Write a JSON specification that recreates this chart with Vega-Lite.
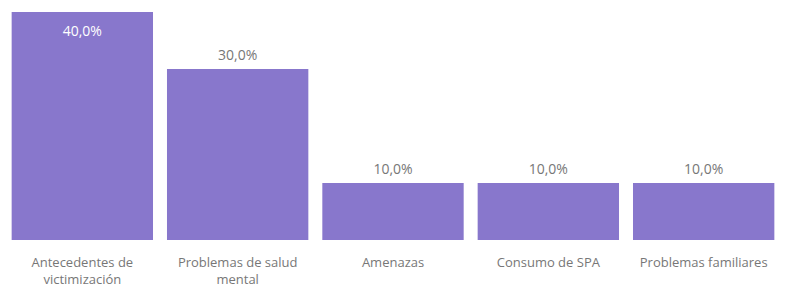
{
  "$schema": "https://vega.github.io/schema/vega-lite/v6.json",
  "width": 786,
  "height": 228,
  "padding": {"top": 12, "left": 0, "right": 0, "bottom": 0},
  "background": "white",
  "config": {
    "view": {"stroke": null},
    "font": "Open Sans",
    "locale": {"number": {"decimal": ",", "thousands": ".", "grouping": [3], "currency": ["", " €"]}}
  },
  "data": {"values": [
    {"categoria": "Antecedentes de victimización", "valor": 0.4},
    {"categoria": "Problemas de salud mental", "valor": 0.3},
    {"categoria": "Amenazas", "valor": 0.1},
    {"categoria": "Consumo de SPA", "valor": 0.1},
    {"categoria": "Problemas familiares", "valor": 0.1}
  ]},
  "encoding": {
    "x": {
      "field": "categoria", "type": "nominal", "sort": null,
      "scale": {"paddingInner": 0.09, "paddingOuter": 0.075},
      "axis": {
        "title": null, "ticks": false, "domain": false, "labelAngle": 0,
        "labelPadding": 16, "labelFontSize": 13, "labelColor": "#777777",
        "labelLineHeight": 17, "labelLimit": 200,
        "labelExpr": "datum.label == 'Antecedentes de victimización' ? ['Antecedentes de', 'victimización'] : datum.label == 'Problemas de salud mental' ? ['Problemas de salud', 'mental'] : datum.label"
      }
    },
    "y": {
      "field": "valor", "type": "quantitative",
      "scale": {"domain": [0, 0.4], "nice": false},
      "axis": null
    }
  },
  "layer": [
    {"mark": {"type": "bar", "color": "#8877CC"}},
    {
      "transform": [{"filter": "datum.valor >= 0.35"}],
      "mark": {"type": "text", "dy": 20, "fontSize": 14, "color": "white", "baseline": "middle"},
      "encoding": {"text": {"field": "valor", "type": "quantitative", "format": ".1%"}}
    },
    {
      "transform": [{"filter": "datum.valor < 0.35"}],
      "mark": {"type": "text", "dy": -13, "fontSize": 14, "color": "#777777", "baseline": "middle"},
      "encoding": {"text": {"field": "valor", "type": "quantitative", "format": ".1%"}}
    }
  ]
}
